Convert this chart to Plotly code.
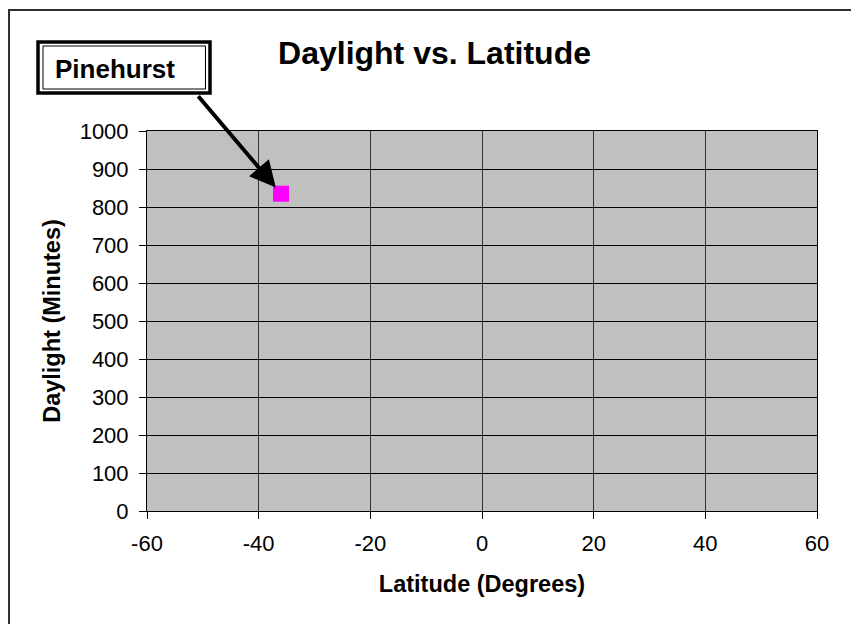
import plotly.graph_objects as go

latitude = [-36]
daylight = [835]
point_label = "Pinehurst"
x_ticks = [-60, -40, -20, 0, 20, 40, 60]
x_tick_text = ["-60", "-40", "-20", "0", "20", "40", "60"]
y_ticks = [0, 100, 200, 300, 400, 500, 600, 700, 800, 900, 1000]

OFF = 8  # page offset of the figure inside the browser window
W, H = 859 - OFF, 624 - OFF
L, R, T, B = 147 - OFF, 817 - OFF, 131 - OFF, 511 - OFF


def px(x):
    return (x - OFF - L) / (R - L)


def py(y):
    return (B - (y - OFF)) / (B - T)


fig = go.Figure()
fig.add_trace(go.Scatter(
    x=latitude, y=daylight, mode="markers",
    marker=dict(symbol="square", size=16, color="#FF00FF", line=dict(width=0)),
    showlegend=False, hoverinfo="skip"))

font = "Liberation Sans, Arial, sans-serif"
fig.update_layout(
    width=W, height=H,
    margin=dict(l=L, r=W - R, t=T, b=H - B, pad=0),
    paper_bgcolor="white", plot_bgcolor="#C0C0C0",
    font=dict(family=font, color="black", size=22),
    title=dict(text="<b>Daylight vs. Latitude</b>", x=px(434.5), xanchor="center",
               xref="paper", y=1 - (53 - OFF) / H, yanchor="middle",
               font=dict(size=32, family=font)),
    xaxis=dict(range=[-60, 60], tickvals=x_ticks, ticktext=x_tick_text,
               showgrid=True, gridcolor="#333333", gridwidth=1,
               zeroline=False, showline=True, linecolor="black", linewidth=1, mirror=True,
               ticks="outside", ticklen=7, tickcolor="black", ticklabelstandoff=6,
               tickfont=dict(size=22),
               title=dict(text="<b>Latitude (Degrees)</b>", font=dict(size=23.5), standoff=20)),
    yaxis=dict(range=[0, 1000], tickvals=y_ticks, showgrid=True, gridcolor="black", gridwidth=1,
               zeroline=False, showline=True, linecolor="black", linewidth=1, mirror=True,
               ticks="outside", ticklen=7, tickcolor="black", ticklabelstandoff=6,
               tickfont=dict(size=22),
               title=dict(text="<b>Daylight (Minutes)</b>", font=dict(size=23.5), standoff=12)),
)

# outer chart border
fig.add_shape(type="rect", xref="paper", yref="paper",
              x0=px(9), x1=px(857), y0=py(645), y1=py(10),
              line=dict(color="#303030", width=2), fillcolor="rgba(0,0,0,0)", layer="above")

# label box (double border)
fig.add_shape(type="rect", xref="paper", yref="paper",
              x0=px(38), x1=px(210), y0=py(93), y1=py(42),
              line=dict(color="black", width=3.5), fillcolor="white", layer="above")
fig.add_shape(type="rect", xref="paper", yref="paper",
              x0=px(43), x1=px(205.5), y0=py(89), y1=py(46),
              line=dict(color="black", width=1), fillcolor="rgba(0,0,0,0)", layer="above")
fig.add_annotation(xref="paper", yref="paper", x=px(53), y=py(69), xanchor="left", yanchor="middle",
                   text="<b>" + point_label + "</b>", showarrow=False,
                   font=dict(size=26, family=font, color="black"))

# arrow
fig.add_annotation(x=latitude[0], y=daylight[0], xref="x", yref="y",
                   ax=-84, ay=-99, axref="pixel", ayref="pixel",
                   text="", showarrow=True, arrowhead=2, arrowsize=1.3, arrowwidth=4,
                   arrowcolor="black", standoff=8)

fig.write_html("out.html")
